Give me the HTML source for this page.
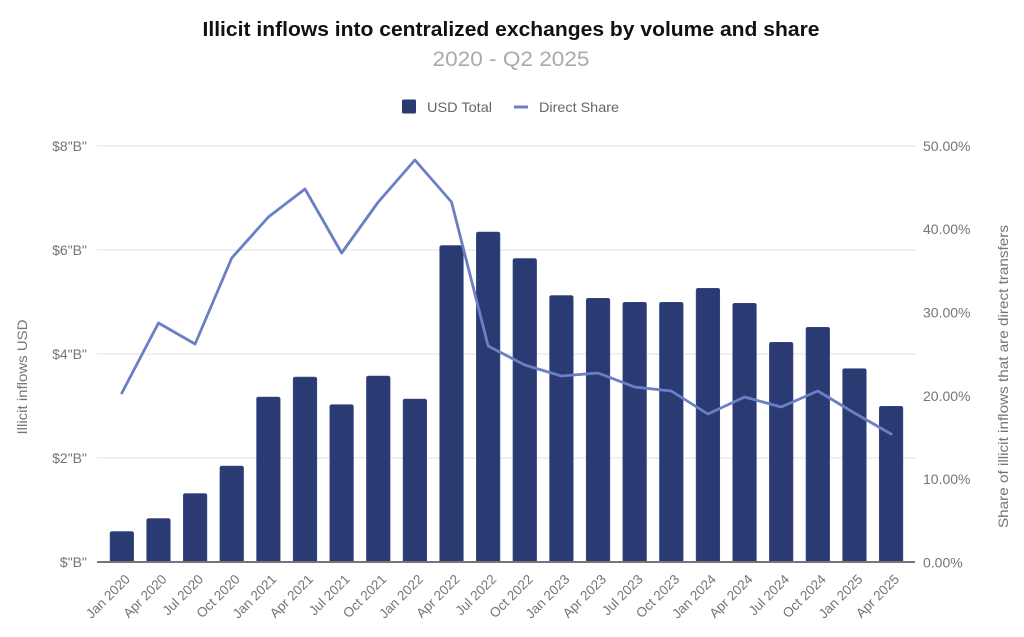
<!DOCTYPE html>
<html>
<head>
<meta charset="utf-8">
<style>
  html,body{margin:0;padding:0;background:#fff;}
  svg{display:block;}
  text{font-family:"Liberation Sans", Arial, sans-serif;}
</style>
</head>
<body>
<svg width="1024" height="637" viewBox="0 0 1024 637" xmlns="http://www.w3.org/2000/svg">
  <rect width="1024" height="637" fill="#fff"/>
  <!-- Title -->
  <text x="511" y="36" text-anchor="middle" font-size="20" font-weight="bold" fill="#111" textLength="617" lengthAdjust="spacingAndGlyphs">Illicit inflows into centralized exchanges by volume and share</text>
  <text x="511" y="66" text-anchor="middle" font-size="21" fill="#aaaaaa" textLength="157" lengthAdjust="spacingAndGlyphs">2020 - Q2 2025</text>

  <!-- Legend -->
  <rect x="402" y="99.5" width="14" height="14" rx="1.5" fill="#2a3a72"/>
  <text x="427" y="112" font-size="14" fill="#666" textLength="65" lengthAdjust="spacingAndGlyphs">USD Total</text>
  <rect x="514" y="105.5" width="14" height="3" fill="#6a7fc4"/>
  <text x="539" y="112" font-size="14" fill="#666" textLength="80" lengthAdjust="spacingAndGlyphs">Direct Share</text>

  <!-- Gridlines -->
  <g stroke="#e0e0e0" stroke-width="1">
    <line x1="97" y1="146" x2="915" y2="146"/>
    <line x1="97" y1="250" x2="915" y2="250"/>
    <line x1="97" y1="354" x2="915" y2="354"/>
    <line x1="97" y1="458" x2="915" y2="458"/>
  </g>

  <!-- Left axis labels -->
  <g font-size="14" fill="#757575" text-anchor="end">
    <text x="87" y="151">$8"B"</text>
    <text x="87" y="255">$6"B"</text>
    <text x="87" y="359">$4"B"</text>
    <text x="87" y="463">$2"B"</text>
    <text x="87" y="567">$"B"</text>
  </g>

  <!-- Right axis labels -->
  <g font-size="14" fill="#757575" text-anchor="start">
    <text x="923" y="151">50.00%</text>
    <text x="923" y="234">40.00%</text>
    <text x="923" y="317.5">30.00%</text>
    <text x="923" y="401">20.00%</text>
    <text x="923" y="484">10.00%</text>
    <text x="923" y="567.5">0.00%</text>
  </g>

  <!-- Axis titles -->
  <text transform="translate(27,377) rotate(-90)" text-anchor="middle" font-size="14" fill="#757575" textLength="115" lengthAdjust="spacingAndGlyphs">Illicit inflows USD</text>
  <text transform="translate(1008,376.5) rotate(-90)" text-anchor="middle" font-size="14" fill="#757575" textLength="303" lengthAdjust="spacingAndGlyphs">Share of illicit inflows that are direct transfers</text>

  <!-- Bars -->
  <g fill="#2a3a72" stroke="#3a4a82" stroke-width="0.6">
    <path d="M110.05,562 V533.5 Q110.05,531.5 112.05,531.5 H131.65 Q133.65,531.5 133.65,533.5 V562 Z"/>
    <path d="M146.68,562 V520.5 Q146.68,518.5 148.68,518.5 H168.28 Q170.28,518.5 170.28,520.5 V562 Z"/>
    <path d="M183.31,562 V495.6 Q183.31,493.6 185.31,493.6 H204.91 Q206.91,493.6 206.91,495.6 V562 Z"/>
    <path d="M219.94,562 V468 Q219.94,466 221.94,466 H241.54 Q243.54,466 243.54,468 V562 Z"/>
    <path d="M256.57,562 V399 Q256.57,397 258.57,397 H278.17 Q280.17,397 280.17,399 V562 Z"/>
    <path d="M293.2,562 V379.1 Q293.2,377.1 295.2,377.1 H314.8 Q316.8,377.1 316.8,379.1 V562 Z"/>
    <path d="M329.83,562 V406.7 Q329.83,404.7 331.83,404.7 H351.43 Q353.43,404.7 353.43,406.7 V562 Z"/>
    <path d="M366.46,562 V378 Q366.46,376 368.46,376 H388.06 Q390.06,376 390.06,378 V562 Z"/>
    <path d="M403.09,562 V401 Q403.09,399 405.09,399 H424.69 Q426.69,399 426.69,401 V562 Z"/>
    <path d="M439.72,562 V247.5 Q439.72,245.5 441.72,245.5 H461.32 Q463.32,245.5 463.32,247.5 V562 Z"/>
    <path d="M476.35,562 V234 Q476.35,232 478.35,232 H497.95 Q499.95,232 499.95,234 V562 Z"/>
    <path d="M512.98,562 V260.5 Q512.98,258.5 514.98,258.5 H534.58 Q536.58,258.5 536.58,260.5 V562 Z"/>
    <path d="M549.61,562 V297.5 Q549.61,295.5 551.61,295.5 H571.21 Q573.21,295.5 573.21,297.5 V562 Z"/>
    <path d="M586.24,562 V300.3 Q586.24,298.3 588.24,298.3 H607.84 Q609.84,298.3 609.84,300.3 V562 Z"/>
    <path d="M622.87,562 V304.3 Q622.87,302.3 624.87,302.3 H644.47 Q646.47,302.3 646.47,304.3 V562 Z"/>
    <path d="M659.5,562 V304.3 Q659.5,302.3 661.5,302.3 H681.1 Q683.1,302.3 683.1,304.3 V562 Z"/>
    <path d="M696.13,562 V290.3 Q696.13,288.3 698.13,288.3 H717.73 Q719.73,288.3 719.73,290.3 V562 Z"/>
    <path d="M732.76,562 V305.3 Q732.76,303.3 734.76,303.3 H754.36 Q756.36,303.3 756.36,305.3 V562 Z"/>
    <path d="M769.39,562 V344.3 Q769.39,342.3 771.39,342.3 H790.99 Q792.99,342.3 792.99,344.3 V562 Z"/>
    <path d="M806.02,562 V329.3 Q806.02,327.3 808.02,327.3 H827.62 Q829.62,327.3 829.62,329.3 V562 Z"/>
    <path d="M842.65,562 V370.7 Q842.65,368.7 844.65,368.7 H864.25 Q866.25,368.7 866.25,370.7 V562 Z"/>
    <path d="M879.28,562 V408.3 Q879.28,406.3 881.28,406.3 H900.88 Q902.88,406.3 902.88,408.3 V562 Z"/>
  </g>

  <!-- Baseline -->
  <line x1="97" y1="562" x2="915" y2="562" stroke="#757575" stroke-width="2"/>

  <!-- Line series -->
  <polyline fill="none" stroke="#6a7fc4" stroke-width="2.8" stroke-linejoin="round" stroke-linecap="round"
    points="121.85,393 158.48,323 195.11,344 231.74,258 268.37,217 305,189 341.63,253 378.26,202 414.89,160 451.52,202 488.15,346 524.78,365 561.41,376 598.04,373 634.67,387 671.3,391 707.93,414 744.56,397 781.19,407 817.82,391 854.45,413 891.08,434"/>

  <!-- X labels -->
  <g font-size="13.5" fill="#757575" text-anchor="end">
    <text transform="translate(130.85,580) rotate(-45)">Jan 2020</text>
    <text transform="translate(167.48,580) rotate(-45)">Apr 2020</text>
    <text transform="translate(204.11,580) rotate(-45)">Jul 2020</text>
    <text transform="translate(240.74,580) rotate(-45)">Oct 2020</text>
    <text transform="translate(277.37,580) rotate(-45)">Jan 2021</text>
    <text transform="translate(314,580) rotate(-45)">Apr 2021</text>
    <text transform="translate(350.63,580) rotate(-45)">Jul 2021</text>
    <text transform="translate(387.26,580) rotate(-45)">Oct 2021</text>
    <text transform="translate(423.89,580) rotate(-45)">Jan 2022</text>
    <text transform="translate(460.52,580) rotate(-45)">Apr 2022</text>
    <text transform="translate(497.15,580) rotate(-45)">Jul 2022</text>
    <text transform="translate(533.78,580) rotate(-45)">Oct 2022</text>
    <text transform="translate(570.41,580) rotate(-45)">Jan 2023</text>
    <text transform="translate(607.04,580) rotate(-45)">Apr 2023</text>
    <text transform="translate(643.67,580) rotate(-45)">Jul 2023</text>
    <text transform="translate(680.3,580) rotate(-45)">Oct 2023</text>
    <text transform="translate(716.93,580) rotate(-45)">Jan 2024</text>
    <text transform="translate(753.56,580) rotate(-45)">Apr 2024</text>
    <text transform="translate(790.19,580) rotate(-45)">Jul 2024</text>
    <text transform="translate(826.82,580) rotate(-45)">Oct 2024</text>
    <text transform="translate(863.45,580) rotate(-45)">Jan 2025</text>
    <text transform="translate(900.08,580) rotate(-45)">Apr 2025</text>
  </g>
</svg>
</body>
</html>
